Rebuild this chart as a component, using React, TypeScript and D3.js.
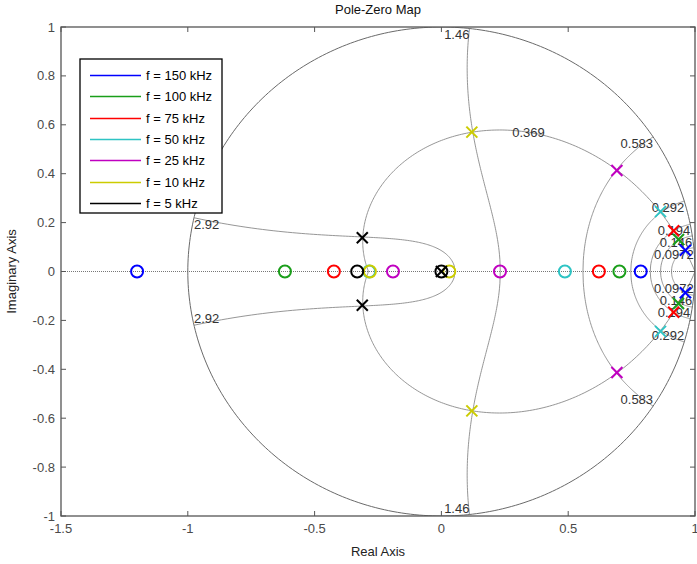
import React from 'react';
import * as d3 from 'd3';

// ---- data ----
const seriesLabels = ['f = 150 kHz', 'f = 100 kHz', 'f = 75 kHz', 'f = 50 kHz', 'f = 25 kHz', 'f = 10 kHz', 'f = 5 kHz'];
const seriesColors = ['#0000ff', '#1a9e1a', '#ff0000', '#2ec4c4', '#c000c0', '#cccc00', '#000000'];
// complex-conjugate pole pairs (re ± j·im)
const poleReal = [0.962, 0.935, 0.916, 0.864, 0.692, 0.12, -0.312];
const poleImag = [0.087, 0.131, 0.167, 0.245, 0.413, 0.57, 0.138];
// extra real poles
const realPoles = [[], [], [], [], [], [], [0]];
// real zeros
const zeroLeft = [-1.2, -0.617, -0.424, -0.285, -0.191, -0.282, -0.332];
const zeroRight = [0.786, 0.702, 0.621, 0.487, 0.231, 0.031, 0.0];
// grid values
const wnValues = [2.92, 1.46, 0.583, 0.292, 0.194, 0.146, 0.0972];
const wnLabels = ['2.92', '1.46', '0.583', '0.292', '0.194', '0.146', '0.0972'];
const zetaValues = [0.369];
const zetaLabels = ['0.369'];
const xTicks = [-1.5, -1, -0.5, 0, 0.5, 1];
const yTicks = [-1, -0.8, -0.6, -0.4, -0.2, 0, 0.2, 0.4, 0.6, 0.8, 1];

const W = 697, H = 564;
const L = 61, R = 695, T = 27, B = 516;
const FONT = '"Liberation Sans", Arial, Helvetica, sans-serif';

export default function App() {
  const x = d3.scaleLinear().domain([-1.5, 1]).range([L, R]);
  const y = d3.scaleLinear().domain([-1, 1]).range([B, T]);
  const line = d3.line<[number, number]>().x(d => x(d[0])).y(d => y(d[1]));

  const zs = d3.range(0, 1.00001, 0.01);
  const wnCurve = (w: number, sign: number): [number, number][] =>
    zs.map(z => {
      const r = Math.exp(-z * w);
      const a = w * Math.sqrt(1 - z * z);
      return [r * Math.cos(a), sign * r * Math.sin(a)];
    });
  const ths = d3.range(0, Math.PI + 1e-6, Math.PI / 200);
  const zetaCurve = (z: number, sign: number): [number, number][] =>
    ths.map(t => {
      const r = Math.exp(-z * t / Math.sqrt(1 - z * z));
      return [r * Math.cos(t), sign * r * Math.sin(t)];
    });
  const circle: [number, number][] = d3.range(0, 2 * Math.PI + 1e-6, Math.PI / 180).map(t => [Math.cos(t), Math.sin(t)]);

  const gridColor = '#8a8a8a';

  const marks: JSX.Element[] = [];
  seriesColors.forEach((c, i) => {
    const zeros = [zeroLeft[i], zeroRight[i]];
    zeros.forEach((zr, k) => {
      marks.push(<circle key={`z${i}${k}`} cx={x(zr)} cy={y(0)} r={6} fill="none" stroke={c} strokeWidth={2} />);
    });
    const poles: [number, number][] = [[poleReal[i], poleImag[i]], [poleReal[i], -poleImag[i]], ...realPoles[i].map(p => [p, 0] as [number, number])];
    poles.forEach((p, k) => {
      const px = x(p[0]), py = y(p[1]), s = 5.5;
      marks.push(
        <g key={`p${i}${k}`} stroke={c} strokeWidth={2}>
          <line x1={px - s} y1={py - s} x2={px + s} y2={py + s} />
          <line x1={px - s} y1={py + s} x2={px + s} y2={py - s} />
        </g>
      );
    });
  });

  return (
    <svg width={W} height={H} style={{ position: 'absolute', left: 0, top: 0, background: '#fff' }} fontFamily={FONT}>
      <rect x={0} y={0} width={W} height={H} fill="#fff" />
      <defs>
        <clipPath id="plotclip"><rect x={L} y={T} width={R - L} height={B - T} /></clipPath>
      </defs>
      <g clipPath="url(#plotclip)">
        {/* real axis */}
        <line x1={L} x2={R} y1={y(0)} y2={y(0)} stroke="#777" strokeWidth={1} strokeDasharray="1,1" />
        {/* unit circle */}
        <path d={line(circle) || ''} fill="none" stroke="#6a6a6a" strokeWidth={1} />
        {wnValues.map((w, i) => (
          <g key={`wn${i}`}>
            <path d={line(wnCurve(w, 1)) || ''} fill="none" stroke={gridColor} strokeWidth={0.9} />
            <path d={line(wnCurve(w, -1)) || ''} fill="none" stroke={gridColor} strokeWidth={0.9} />
          </g>
        ))}
        {zetaValues.map((z, i) => (
          <g key={`ze${i}`}>
            <path d={line(zetaCurve(z, 1)) || ''} fill="none" stroke={gridColor} strokeWidth={0.9} />
            <path d={line(zetaCurve(z, -1)) || ''} fill="none" stroke={gridColor} strokeWidth={0.9} />
          </g>
        ))}
        {/* wn labels */}
        {wnValues.map((w, i) => {
          const ex = Math.cos(w), ey = Math.sin(w);
          const anchor = ex < 0 ? 'start' : 'end';
          return (
            <g key={`wl${i}`} fontSize={13} fill="#333">
              <text x={x(ex)} y={y(ey) + 11} textAnchor={anchor}>{wnLabels[i]}</text>
              <text x={x(ex)} y={y(-ey) - 2} textAnchor={anchor}>{wnLabels[i]}</text>
            </g>
          );
        })}
        {zetaValues.map((z, i) => {
          const t = 1.12;
          const r = Math.exp(-z * t / Math.sqrt(1 - z * z));
          return (
            <text key={`zl${i}`} x={x(r * Math.cos(t))} y={y(r * Math.sin(t)) + 7} fontSize={13} fill="#333">{zetaLabels[i]}</text>
          );
        })}
        {marks}
      </g>
      {/* frame */}
      <rect x={L} y={T} width={R - L} height={B - T} fill="none" stroke="#555" strokeWidth={1.3} />
      {xTicks.map((t, i) => (
        <g key={`xt${i}`}>
          <line x1={x(t)} x2={x(t)} y1={B} y2={B - 5} stroke="#555" />
          <line x1={x(t)} x2={x(t)} y1={T} y2={T + 5} stroke="#555" />
          <text x={x(t)} y={B + 17} textAnchor="middle" fontSize={13} fill="#4a4a4a">{String(t)}</text>
        </g>
      ))}
      {yTicks.map((t, i) => (
        <g key={`yt${i}`}>
          <line x1={L} x2={L + 5} y1={y(t)} y2={y(t)} stroke="#555" />
          <line x1={R} x2={R - 5} y1={y(t)} y2={y(t)} stroke="#555" />
          <text x={L - 6} y={y(t) + 4.5} textAnchor="end" fontSize={13} fill="#4a4a4a">{String(Math.round(t * 10) / 10)}</text>
        </g>
      ))}
      <text x={(L + R) / 2} y={14} textAnchor="middle" fontSize={13} fill="#111">Pole-Zero Map</text>
      <text x={(L + R) / 2} y={556} textAnchor="middle" fontSize={13} fill="#222">Real Axis</text>
      <text transform={`translate(16,${(T + B) / 2}) rotate(-90)`} textAnchor="middle" fontSize={13} fill="#222">Imaginary Axis</text>
      {/* legend */}
      <g>
        <rect x={80} y={59} width={142} height={154} fill="#fff" stroke="#000" strokeWidth={1.3} />
        {seriesLabels.map((s, i) => {
          const ly = Math.round(75 + i * 21.3) + 0.5;
          return (
            <g key={`lg${i}`}>
              <line x1={90} x2={141} y1={ly} y2={ly} stroke={seriesColors[i]} strokeWidth={1.5} />
              <text x={146} y={ly + 4.5} fontSize={13} fill="#000">{s}</text>
            </g>
          );
        })}
      </g>
    </svg>
  );
}
